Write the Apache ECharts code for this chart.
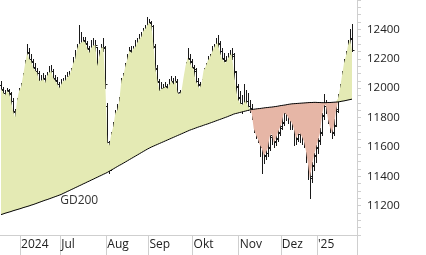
<!DOCTYPE html>
<html>
<head>
<meta charset="utf-8">
<script src="https://cdn.jsdelivr.net/npm/echarts@6.0.0/dist/echarts.min.js"></script>
<style>
  html, body { margin: 0; padding: 0; background: #fff; }
  #main { width: 426px; height: 255px; }
</style>
</head>
<body>
<div id="main"></div>
<script>
// Tagesbalken (OHLC), Mai 2024 bis Jan 2025
const opens = [
  12020,11990,11965,11945,11985,11960,11910,11840,11810,11920,
  11985,12020,12090,12170,12245,12195,12180,12145,12115,12100,
  12045,12055,12070,12040,12090,12110,12115,12065,12055,12030,
  12005,12030,12045,12055,12080,12090,12130,12175,12210,12280,
  12305,12315,12325,12300,12265,12245,12280,12295,12280,12160,
  12225,12280,12270,11880,11560,11620,11700,11760,11840,11860,
  11930,12060,12095,12160,12210,12260,12245,12275,12290,12315,
  12340,12355,12395,12410,12435,12450,12420,12280,12140,12040,
  11985,12000,12005,12015,12000,12030,12045,12030,12045,11975,
  11950,11990,12075,12160,12200,12180,12140,12120,12050,12020,
  12000,12040,12125,12150,12190,12210,12250,12275,12300,12300,
  12250,12200,12190,12175,12205,12225,12220,12110,12010,11940,
  11900,11890,11900,11910,11880,11865,11820,11730,11690,11650,
  11600,11580,11545,11560,11600,11680,11680,11640,11660,11700,
  11740,11770,11835,11820,11800,11775,11760,11720,11660,11690,
  11690,11665,11630,11560,11470,11400,11480,11545,11600,11650,
  11700,11820,11880,11870,11780,11730,11700,11750,11860,11935,
  12000,12090,12175,12230,12300,12340
];
const highs = [
  12050,12010,11990,12000,11995,11975,11930,11860,11930,12000,
  12035,12100,12190,12300,12270,12230,12200,12170,12140,12115,
  12090,12100,12090,12110,12150,12160,12130,12090,12075,12045,
  12060,12070,12090,12110,12120,12140,12210,12260,12300,12430,
  12380,12350,12345,12320,12290,12330,12340,12330,12280,12260,
  12300,12340,12290,11900,11640,11700,11770,11850,11890,11940,
  12070,12100,12170,12230,12280,12290,12290,12330,12340,12370,
  12380,12410,12430,12485,12470,12460,12430,12300,12160,12060,
  12040,12030,12040,12030,12060,12080,12070,12080,12060,11990,
  12000,12090,12180,12270,12230,12200,12160,12140,12070,12040,
  12060,12140,12170,12220,12230,12290,12300,12340,12360,12320,
  12270,12240,12220,12240,12260,12270,12240,12120,12030,11980,
  11950,12030,11990,11970,11920,11890,11840,11790,11720,11690,
  11640,11620,11630,11640,11710,11720,11700,11700,11740,11790,
  11810,11870,11860,11850,11830,11810,11780,11740,11710,11720,
  11700,11680,11640,11590,11520,11500,11560,11610,11660,11730,
  11830,11960,11920,11900,11800,11760,11790,11900,11960,12030,
  12120,12200,12250,12330,12400,12440
];
const lows = [
  11930,11945,11900,11930,11920,11880,11820,11770,11800,11905,
  11960,12005,12080,12160,12180,12150,12110,12080,12060,12030,
  12010,12030,12010,12030,12075,12090,12040,12020,11990,11970,
  11990,11950,12020,12040,12040,12070,12110,12160,12190,12270,
  12280,12270,12260,12230,12200,12230,12250,12200,12060,12140,
  12200,12250,12000,11600,11420,11440,11660,11730,11800,11840,
  11920,12020,12070,12130,12190,12200,12220,12250,12270,12300,
  12320,12330,12370,12400,12400,12380,12270,12120,12020,11900,
  11940,11950,11960,11880,11970,12000,11990,12010,11940,11920,
  11930,11970,12060,12140,12150,12110,12080,12020,11990,11880,
  11980,12020,12100,12130,12160,12190,12230,12260,12280,12230,
  12170,12150,12140,12160,12180,12200,12060,11970,11900,11870,
  11830,11870,11880,11850,11840,11790,11700,11660,11630,11540,
  11425,11490,11520,11540,11580,11620,11600,11610,11640,11680,
  11720,11750,11780,11760,11720,11720,11610,11620,11640,11630,
  11620,11600,11500,11380,11250,11360,11440,11500,11560,11620,
  11680,11790,11830,11760,11700,11660,11680,11740,11840,11910,
  11990,12070,12150,12210,12280,12250
];
const closes = [
  11995,11970,11950,11980,11965,11915,11845,11800,11915,11980,
  12010,12085,12165,12240,12200,12185,12140,12120,12105,12050,
  12050,12065,12035,12085,12105,12120,12070,12050,12030,12000,
  12025,12050,12050,12075,12085,12120,12170,12200,12270,12300,
  12310,12320,12310,12270,12240,12275,12290,12295,12150,12220,
  12275,12280,12030,11630,11610,11690,11740,11830,11850,11915,
  12050,12085,12150,12200,12255,12240,12270,12280,12310,12335,
  12350,12390,12405,12430,12445,12425,12290,12130,12050,11980,
  11995,12000,12010,11995,12025,12050,12025,12050,11970,11955,
  11980,12070,12150,12205,12185,12145,12130,12050,12025,11995,
  12035,12120,12145,12185,12205,12240,12270,12295,12310,12255,
  12205,12185,12170,12200,12220,12235,12120,12015,11930,11900,
  11885,11895,11915,11880,11860,11830,11725,11685,11655,11615,
  11590,11540,11560,11590,11670,11690,11630,11655,11695,11730,
  11765,11830,11825,11805,11780,11765,11725,11655,11685,11695,
  11670,11640,11575,11490,11385,11470,11540,11590,11640,11695,
  11810,11880,11885,11790,11735,11695,11745,11845,11930,11995,
  12085,12170,12220,12290,12335,12260
];
// GD200
const gd200 = [
  11139,11143,11148,11152,11156,11160,11165,11169,11173,11177,
  11181,11186,11190,11194,11198,11203,11207,11212,11217,11222,
  11227,11232,11237,11241,11246,11251,11256,11261,11266,11271,
  11276,11283,11289,11296,11302,11309,11315,11322,11328,11335,
  11341,11348,11354,11361,11367,11374,11380,11387,11393,11400,
  11406,11413,11419,11426,11434,11442,11450,11458,11466,11474,
  11481,11489,11497,11505,11513,11521,11529,11537,11545,11553,
  11561,11569,11577,11585,11592,11599,11605,11611,11617,11623,
  11629,11635,11641,11647,11653,11659,11665,11671,11677,11683,
  11689,11695,11701,11707,11713,11718,11723,11728,11733,11738,
  11742,11747,11752,11756,11761,11766,11771,11776,11781,11786,
  11791,11796,11801,11806,11812,11817,11823,11827,11830,11834,
  11837,11841,11844,11848,11851,11854,11856,11858,11860,11861,
  11863,11865,11867,11868,11870,11871,11873,11875,11877,11880,
  11882,11884,11886,11889,11891,11893,11894,11895,11896,11897,
  11898,11899,11900,11901,11902,11902,11903,11903,11902,11902,
  11901,11901,11901,11902,11902,11903,11904,11905,11906,11908,
  11911,11913,11916,11919,11922,11925
];
// Monatsanfaenge (Index) und Beschriftung
const monthTicks = [10, 30, 53, 74, 96, 119, 140, 158];
const monthLabels = ['2024', 'Jul', 'Aug', 'Sep', 'Okt', 'Nov', 'Dez', "'25"];
const yTicks = { min: 11000, max: 12600, step: 200 };

const slots = 178;
const cats = [];
for (let i = 0; i < slots; i++) cats.push(i);

const lower = closes.map((c, i) => Math.min(c, gd200[i]));
const below = closes.map((c, i) => gd200[i] - Math.min(c, gd200[i]));
const above = closes.map((c, i) => Math.max(c, gd200[i]) - gd200[i]);
const ohlc = closes.map((c, i) => [i, opens[i], highs[i], lows[i], c]);

const font = 'Open Sans';
const chart = echarts.init(document.getElementById('main'));

chart.setOption({
    animation: false,
    grid: { left: 0, right: 69, top: 0, bottom: 20, containLabel: false, outerBoundsMode: 'none' },
    xAxis: {
        type: 'category',
        data: cats,
        boundaryGap: true,
        axisLine: { show: true, lineStyle: { color: '#cfcfcf', width: 1 } },
        axisTick: {
            show: true,
            length: 20,
            interval: (idx) => monthTicks.includes(idx) || idx === slots,
            lineStyle: { color: '#cfcfcf' }
        },
        axisLabel: {
            interval: (idx) => monthTicks.includes(idx),
            formatter: (val) => {
                const k = monthTicks.indexOf(Number(val));
                return k >= 0 ? monthLabels[k] : '';
            },
            align: 'left',
            margin: 4,
            color: '#222',
            fontFamily: font,
            fontSize: 12
        },
        splitLine: { show: false }
    },
    yAxis: {
        type: 'value',
        position: 'right',
        min: yTicks.min,
        max: yTicks.max,
        interval: yTicks.step,
        axisLine: { show: true, lineStyle: { color: '#cfcfcf', width: 1 } },
        axisTick: { show: true, length: 4, lineStyle: { color: '#cfcfcf' } },
        minorTick: { show: true, splitNumber: 4, length: 4, lineStyle: { color: '#cfcfcf' } },
        axisLabel: {
            showMinLabel: false,
            showMaxLabel: false,
            formatter: (v) => String(v),
            margin: 10,
            color: '#222',
            fontFamily: font,
            fontSize: 11.5
        },
        splitLine: { show: false }
    },
    series: [
        {
            name: 'base', type: 'line', data: lower, stack: 'fill',
            symbol: 'none', lineStyle: { width: 0 }, silent: true
        },
        {
            name: 'unter', type: 'line', data: below, stack: 'fill',
            symbol: 'none', lineStyle: { width: 0 },
            areaStyle: { color: '#e6b6a6', opacity: 1 }, silent: true
        },
        {
            name: 'ueber', type: 'line', data: above, stack: 'fill',
            symbol: 'none', lineStyle: { width: 0 },
            areaStyle: { color: '#e4eab4', opacity: 1 }, silent: true
        },
        {
            name: 'GD200', type: 'line', data: gd200,
            symbol: 'none', lineStyle: { color: '#000', width: 1 },
            markPoint: {
                symbol: 'rect', symbolSize: 0,
                label: {
                    show: true, formatter: 'GD200', offset: [0, 15],
                    color: '#333', fontFamily: font, fontSize: 12
                },
                data: [{ coord: [39, gd200[39]] }]
            }
        },
        {
            name: 'Kurs', type: 'custom', data: ohlc,
            encode: { x: 0, y: [1, 2, 3, 4] },
            renderItem: (params, api) => {
                const idx = api.value(0);
                const x = Math.round(api.coord([idx, 0])[0]) + 0.5;
                const yo = Math.round(api.coord([idx, api.value(1)])[1]) + 0.5;
                const yh = Math.round(api.coord([idx, api.value(2)])[1]);
                const yl = Math.round(api.coord([idx, api.value(3)])[1]) + 1;
                const yc = Math.round(api.coord([idx, api.value(4)])[1]) + 0.5;
                const st = { stroke: '#1a1a1a', lineWidth: 1 };
                return {
                    type: 'group',
                    children: [
                        { type: 'line', shape: { x1: x, y1: yh, x2: x, y2: yl }, style: st },
                        { type: 'line', shape: { x1: x - 2, y1: yo, x2: x, y2: yo }, style: st },
                        { type: 'line', shape: { x1: x, y1: yc, x2: x + 2, y2: yc }, style: st }
                    ]
                };
            }
        }
    ]
});
</script>
</body>
</html>
